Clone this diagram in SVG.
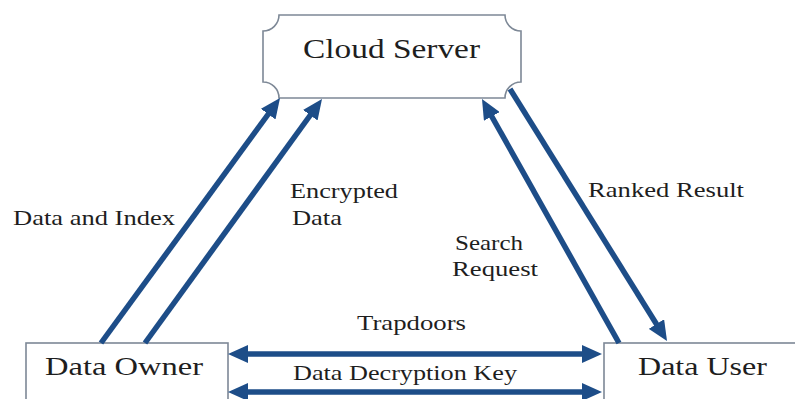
<svg xmlns="http://www.w3.org/2000/svg" width="795" height="399" viewBox="0 0 795 399">
<style>
.box{fill:#ffffff;stroke:#7d8896;stroke-width:1.6}
.t{font-family:'Liberation Serif','Times New Roman',serif;fill:#1e1e1e}
.big{font-size:26px}
.lbl{font-size:21px}
.arr{stroke:#1d4d88;stroke-width:5.5;fill:none;marker-end:url(#ah)}
.bi{marker-start:url(#ah)}
</style>
<defs>
<marker id="ah" viewBox="0 0 20 18" refX="12" refY="9" markerWidth="20" markerHeight="18" markerUnits="userSpaceOnUse" orient="auto-start-reverse">
<path d="M0,0 L20,9 L0,18 z" fill="#1d4d88"/>
</marker>
</defs>
<rect width="795" height="399" fill="#ffffff"/>
<g id="cloud-server">
<path class="box" d="M279,15 H505 A16,16 0 0 0 521,31 V82 A16,16 0 0 0 505,98 H279 A16,16 0 0 0 263,82 V31 A16,16 0 0 0 279,15 Z"/>
<text class="t" x="303" y="58" font-size="27" textLength="177" lengthAdjust="spacingAndGlyphs">Cloud Server</text>
</g>
<g id="data-owner">
<rect class="box" x="26" y="343" width="202" height="70"/>
<text class="t big" x="45" y="375" textLength="158" lengthAdjust="spacingAndGlyphs">Data Owner</text>
</g>
<g id="data-user">
<rect class="box" x="604" y="343" width="200" height="70"/>
<text class="t big" x="638" y="375" textLength="129" lengthAdjust="spacingAndGlyphs">Data User</text>
</g>
<g id="connectors">
<line class="arr" x1="101" y1="343" x2="275.3" y2="104.5"/>
<line class="arr" x1="145" y1="343" x2="317.3" y2="105.5"/>
<line class="arr" x1="619" y1="343" x2="485.9" y2="106"/>
<line class="arr" x1="510" y1="89" x2="662.8" y2="334.2"/>
<line class="arr bi" x1="236" y1="354" x2="594" y2="354"/>
<line class="arr bi" x1="236" y1="392" x2="594" y2="392"/>
</g>
<g id="labels">
<text class="t lbl" x="13" y="225" textLength="162" lengthAdjust="spacingAndGlyphs">Data and Index</text>
<text class="t lbl" x="290" y="198" textLength="108" lengthAdjust="spacingAndGlyphs">Encrypted</text>
<text class="t lbl" x="292" y="225" textLength="50" lengthAdjust="spacingAndGlyphs">Data</text>
<text class="t lbl" x="588" y="197" textLength="156" lengthAdjust="spacingAndGlyphs">Ranked Result</text>
<text class="t lbl" x="455" y="250" textLength="68" lengthAdjust="spacingAndGlyphs">Search</text>
<text class="t lbl" x="452" y="276" textLength="86" lengthAdjust="spacingAndGlyphs">Request</text>
<text class="t lbl" x="357" y="330" textLength="109" lengthAdjust="spacingAndGlyphs">Trapdoors</text>
<text class="t lbl" x="293" y="380" textLength="224" lengthAdjust="spacingAndGlyphs">Data Decryption Key</text>
</g>
</svg>
